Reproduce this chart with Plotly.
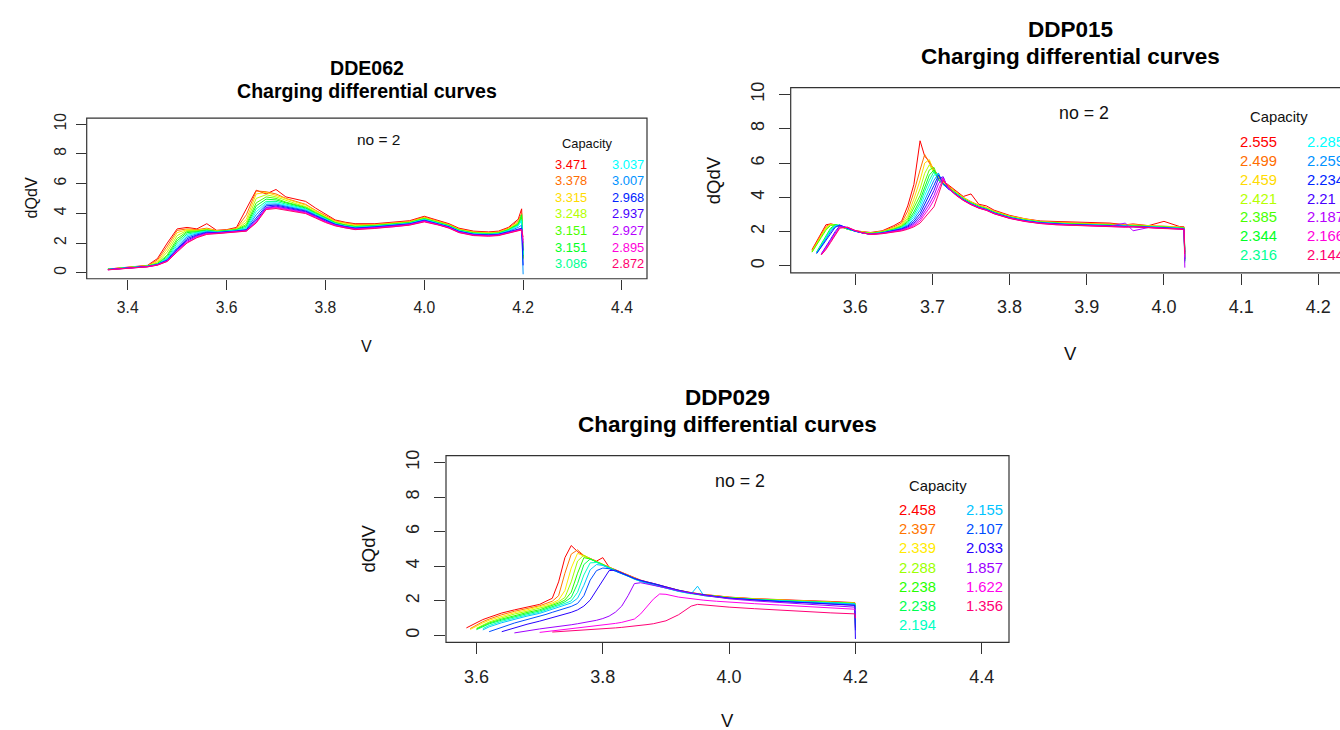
import colorsys
import plotly.graph_objects as go

W, H = 1340, 730

# ------------------------------------------------------------------ data
# ---- DDE062
DDE062_V = [3.36, 3.40, 3.44, 3.46, 3.48, 3.50, 3.52, 3.54, 3.56, 3.58, 3.60, 3.62, 3.64,
            3.66, 3.68, 3.70, 3.72, 3.74, 3.76, 3.78, 3.80, 3.82, 3.84, 3.86, 3.90, 3.94,
            3.97, 4.00, 4.03, 4.05, 4.07, 4.10, 4.13, 4.15, 4.17, 4.19, 4.197, 4.20]
DDE062_CAP = [3.471, 3.378, 3.315, 3.248, 3.151, 3.151, 3.086,
              3.037, 3.007, 2.968, 2.937, 2.927, 2.895, 2.872]
DDE062_DQDV = [
    [0.25, 0.35, 0.50, 0.95, 2.00, 2.95, 3.05, 2.95, 3.30, 2.85, 2.90, 3.05, 4.30, 5.55, 5.30, 5.60, 5.10, 4.95, 4.80, 4.35, 3.95, 3.55, 3.40, 3.30, 3.30, 3.40, 3.50, 3.80, 3.50, 3.30, 3.00, 2.80, 2.75, 2.80, 3.05, 3.60, 4.30, 1.2],
    [0.25, 0.34, 0.48, 0.85, 1.80, 2.85, 2.95, 2.90, 3.00, 2.85, 2.88, 2.98, 3.90, 5.50, 5.45, 5.30, 5.00, 4.80, 4.60, 4.20, 3.85, 3.50, 3.35, 3.25, 3.25, 3.35, 3.45, 3.75, 3.45, 3.25, 2.95, 2.75, 2.70, 2.75, 3.00, 3.50, 4.00, 1.0],
    [0.24, 0.33, 0.47, 0.75, 1.60, 2.70, 2.90, 2.85, 2.95, 2.82, 2.85, 2.95, 3.60, 5.30, 5.40, 5.20, 4.95, 4.75, 4.55, 4.15, 3.80, 3.45, 3.30, 3.20, 3.22, 3.32, 3.42, 3.70, 3.42, 3.22, 2.92, 2.72, 2.68, 2.72, 2.95, 3.40, 3.80, 1.5],
    [0.24, 0.33, 0.46, 0.68, 1.40, 2.50, 2.85, 2.82, 2.92, 2.80, 2.83, 2.92, 3.40, 5.00, 5.25, 5.10, 4.85, 4.65, 4.45, 4.10, 3.75, 3.40, 3.25, 3.15, 3.20, 3.30, 3.40, 3.68, 3.40, 3.20, 2.90, 2.70, 2.66, 2.70, 2.92, 3.35, 3.90, 1.0],
    [0.24, 0.32, 0.45, 0.62, 1.20, 2.30, 2.78, 2.80, 2.88, 2.78, 2.82, 2.90, 3.25, 4.70, 5.10, 5.00, 4.75, 4.55, 4.40, 4.05, 3.70, 3.38, 3.22, 3.12, 3.18, 3.28, 3.38, 3.65, 3.38, 3.18, 2.88, 2.68, 2.64, 2.68, 2.90, 3.30, 3.70, 0.9],
    [0.23, 0.32, 0.45, 0.60, 1.10, 2.15, 2.70, 2.76, 2.86, 2.77, 2.80, 2.88, 3.15, 4.50, 4.95, 4.90, 4.70, 4.50, 4.35, 4.00, 3.68, 3.35, 3.20, 3.10, 3.16, 3.26, 3.36, 3.62, 3.36, 3.16, 2.86, 2.66, 2.62, 2.66, 2.88, 3.25, 3.90, 1.1],
    [0.23, 0.31, 0.44, 0.58, 1.00, 2.00, 2.60, 2.72, 2.82, 2.75, 2.78, 2.86, 3.05, 4.30, 4.80, 4.80, 4.62, 4.45, 4.30, 3.96, 3.64, 3.32, 3.17, 3.07, 3.14, 3.24, 3.34, 3.60, 3.34, 3.14, 2.84, 2.64, 2.60, 2.64, 2.85, 3.20, 3.60, 1.3],
    [0.23, 0.31, 0.44, 0.57, 0.95, 1.85, 2.50, 2.68, 2.80, 2.73, 2.77, 2.84, 2.98, 4.10, 4.70, 4.70, 4.55, 4.40, 4.25, 3.92, 3.60, 3.30, 3.15, 3.05, 3.12, 3.22, 3.32, 3.58, 3.32, 3.12, 2.82, 2.62, 2.58, 2.62, 2.82, 3.15, 3.50, 1.2],
    [0.22, 0.30, 0.43, 0.56, 0.90, 1.70, 2.40, 2.62, 2.76, 2.72, 2.76, 2.82, 2.92, 3.90, 4.60, 4.62, 4.48, 4.35, 4.20, 3.88, 3.56, 3.28, 3.12, 3.02, 3.10, 3.20, 3.30, 3.55, 3.30, 3.10, 2.80, 2.60, 2.56, 2.60, 2.78, 3.05, 3.20, -0.1],
    [0.22, 0.30, 0.42, 0.55, 0.85, 1.60, 2.30, 2.55, 2.72, 2.70, 2.74, 2.80, 2.88, 3.70, 4.50, 4.55, 4.42, 4.30, 4.15, 3.84, 3.52, 3.25, 3.10, 3.00, 3.08, 3.18, 3.28, 3.52, 3.28, 3.08, 2.78, 2.58, 2.54, 2.58, 2.75, 2.95, 3.00, 0.5],
    [0.21, 0.29, 0.42, 0.54, 0.82, 1.55, 2.20, 2.50, 2.68, 2.68, 2.73, 2.78, 2.85, 3.55, 4.40, 4.48, 4.36, 4.25, 4.10, 3.80, 3.48, 3.22, 3.07, 2.97, 3.05, 3.15, 3.26, 3.50, 3.26, 3.06, 2.76, 2.56, 2.52, 2.56, 2.72, 2.90, 2.95, 1.5],
    [0.21, 0.29, 0.41, 0.53, 0.80, 1.50, 2.12, 2.45, 2.65, 2.66, 2.72, 2.77, 2.83, 3.45, 4.35, 4.42, 4.30, 4.20, 4.06, 3.76, 3.45, 3.20, 3.05, 2.95, 3.03, 3.13, 3.24, 3.48, 3.24, 3.04, 2.74, 2.54, 2.50, 2.54, 2.70, 2.88, 2.92, 2.0],
    [0.20, 0.28, 0.40, 0.52, 0.78, 1.45, 2.05, 2.40, 2.62, 2.65, 2.71, 2.75, 2.81, 3.40, 4.30, 4.38, 4.25, 4.15, 4.02, 3.72, 3.42, 3.18, 3.02, 2.92, 3.00, 3.10, 3.22, 3.45, 3.22, 3.02, 2.72, 2.52, 2.48, 2.52, 2.68, 2.85, 2.90, 2.2],
    [0.20, 0.28, 0.40, 0.51, 0.76, 1.40, 2.00, 2.36, 2.58, 2.63, 2.70, 2.74, 2.80, 3.35, 4.25, 4.32, 4.20, 4.10, 3.98, 3.68, 3.38, 3.15, 3.00, 2.90, 2.98, 3.08, 3.20, 3.42, 3.20, 3.00, 2.70, 2.50, 2.46, 2.50, 2.66, 2.82, 2.88, 2.4],
]

# ---- DDP015
DDP015_V = [3.544, 3.550, 3.556, 3.562, 3.568, 3.574, 3.580, 3.590, 3.600, 3.610, 3.620,
            3.635, 3.650, 3.660, 3.668, 3.676, 3.684, 3.690, 3.696, 3.702, 3.708, 3.714,
            3.720, 3.730, 3.740, 3.750, 3.760, 3.770, 3.780, 3.800, 3.820, 3.840, 3.860,
            3.880, 3.900, 3.930, 3.950, 3.960, 3.980, 4.000, 4.020, 4.026, 4.027]
DDP015_CAP = [2.555, 2.499, 2.459, 2.421, 2.385, 2.344, 2.316,
              2.285, 2.259, 2.234, 2.21, 2.187, 2.166, 2.144]
DDP015_DQDV = [
    [0.95, 1.45, 1.95, 2.40, 2.45, 2.40, 2.30, 2.15, 2.05, 1.98, 1.95, 2.05, 2.35, 2.60, 3.50, 4.75, 7.30, 6.40, 6.10, 5.60, 5.30, 4.95, 4.75, 4.40, 4.05, 4.20, 3.60, 3.50, 3.25, 2.95, 2.75, 2.62, 2.60, 2.55, 2.55, 2.50, 2.40, 2.45, 2.35, 2.60, 2.30, 2.28, 0.4],
    [0.90, 1.35, 1.85, 2.30, 2.45, 2.40, 2.32, 2.15, 2.05, 1.97, 1.93, 2.02, 2.28, 2.50, 3.20, 4.30, 5.60, 6.50, 6.00, 5.55, 5.20, 4.90, 4.70, 4.35, 4.00, 3.75, 3.55, 3.40, 3.20, 2.92, 2.73, 2.60, 2.55, 2.50, 2.48, 2.45, 2.40, 2.40, 2.35, 2.32, 2.28, 2.25, 0.6],
    [0.85, 1.30, 1.78, 2.22, 2.42, 2.40, 2.33, 2.15, 2.04, 1.96, 1.92, 2.00, 2.22, 2.42, 2.95, 3.90, 5.00, 6.00, 6.20, 5.50, 5.15, 4.85, 4.65, 4.30, 3.98, 3.72, 3.52, 3.38, 3.18, 2.90, 2.72, 2.58, 2.52, 2.48, 2.46, 2.42, 2.38, 2.40, 2.33, 2.30, 2.26, 2.24, 0.5],
    [0.82, 1.25, 1.72, 2.15, 2.40, 2.40, 2.33, 2.14, 2.03, 1.95, 1.91, 1.99, 2.18, 2.36, 2.80, 3.60, 4.50, 5.40, 5.90, 5.45, 5.10, 4.82, 4.62, 4.28, 3.95, 3.70, 3.50, 3.36, 3.16, 2.88, 2.70, 2.57, 2.50, 2.46, 2.44, 2.40, 2.36, 2.38, 2.32, 2.28, 2.25, 2.22, 0.3],
    [0.80, 1.20, 1.66, 2.08, 2.36, 2.40, 2.34, 2.14, 2.02, 1.94, 1.90, 1.98, 2.15, 2.32, 2.68, 3.35, 4.10, 4.90, 5.60, 5.75, 5.05, 4.80, 4.60, 4.26, 3.93, 3.68, 3.48, 3.34, 3.14, 2.86, 2.68, 2.56, 2.49, 2.45, 2.43, 2.39, 2.35, 2.37, 2.31, 2.27, 2.24, 2.21, 0.8],
    [None, 0.82, 1.28, 1.75, 2.20, 2.40, 2.36, 2.15, 2.02, 1.93, 1.88, 1.96, 2.12, 2.28, 2.58, 3.15, 3.85, 4.60, 5.30, 5.60, 5.00, 4.78, 4.58, 4.24, 3.92, 3.66, 3.46, 3.32, 3.12, 2.85, 2.67, 2.55, 2.48, 2.44, 2.42, 2.38, 2.34, 2.36, 2.30, 2.26, 2.23, 2.20, 1.0],
    [None, 0.78, 1.22, 1.68, 2.12, 2.38, 2.37, 2.16, 2.02, 1.93, 1.87, 1.95, 2.10, 2.25, 2.50, 3.00, 3.65, 4.35, 5.00, 5.50, 4.98, 4.76, 4.56, 4.22, 3.90, 3.65, 3.45, 3.31, 3.11, 2.84, 2.66, 2.54, 2.47, 2.43, 2.41, 2.37, 2.33, 2.35, 2.29, 2.25, 2.22, 2.19, 0.2],
    [None, 0.76, 1.18, 1.62, 2.05, 2.35, 2.38, 2.17, 2.02, 1.92, 1.86, 1.94, 2.08, 2.22, 2.44, 2.86, 3.45, 4.10, 4.70, 5.30, 5.40, 4.74, 4.54, 4.20, 3.88, 3.63, 3.43, 3.30, 3.10, 2.83, 2.65, 2.53, 2.46, 2.42, 2.40, 2.36, 2.32, 2.34, 2.28, 2.24, 2.21, 2.18, 0.6],
    [None, 0.74, 1.14, 1.56, 1.98, 2.30, 2.38, 2.18, 2.02, 1.92, 1.85, 1.93, 2.06, 2.19, 2.38, 2.72, 3.25, 3.85, 4.40, 5.00, 5.40, 4.75, 4.53, 4.19, 3.87, 3.62, 3.42, 3.29, 3.09, 2.82, 2.64, 2.52, 2.45, 2.41, 2.39, 2.35, 2.31, 2.33, 2.27, 2.23, 2.20, 2.17, 0.4],
    [None, 0.72, 1.10, 1.50, 1.92, 2.25, 2.38, 2.20, 2.03, 1.92, 1.85, 1.92, 2.04, 2.16, 2.32, 2.60, 3.05, 3.60, 4.10, 4.70, 5.30, 4.80, 4.52, 4.18, 3.86, 3.61, 3.41, 3.28, 3.08, 2.81, 2.63, 2.51, 2.44, 2.40, 2.38, 2.34, 2.30, 2.32, 2.26, 2.22, 2.19, 2.16, 0.3],
    [None, None, 0.70, 1.10, 1.55, 2.00, 2.35, 2.22, 2.04, 1.92, 1.84, 1.91, 2.02, 2.13, 2.27, 2.50, 2.88, 3.35, 3.85, 4.40, 5.10, 5.20, 4.52, 4.17, 3.85, 3.60, 3.40, 3.27, 3.07, 2.80, 2.62, 2.50, 2.43, 2.39, 2.37, 2.33, 2.29, 2.31, 2.25, 2.21, 2.18, 2.15, 0.8],
    [None, None, 0.68, 1.05, 1.48, 1.92, 2.30, 2.24, 2.05, 1.92, 1.84, 1.90, 2.00, 2.10, 2.22, 2.42, 2.74, 3.15, 3.60, 4.10, 4.80, 5.15, 4.55, 4.16, 3.84, 3.59, 3.39, 3.26, 3.06, 2.79, 2.61, 2.49, 2.42, 2.38, 2.36, 2.32, 2.50, 2.05, 2.24, 2.20, 2.17, 2.14, -0.1],
    [None, None, 0.66, 1.00, 1.42, 1.85, 2.25, 2.25, 2.06, 1.93, 1.84, 1.89, 1.98, 2.07, 2.18, 2.35, 2.62, 2.98, 3.38, 3.85, 4.50, 5.10, 4.60, 4.15, 3.83, 3.58, 3.38, 3.25, 3.05, 2.78, 2.60, 2.48, 2.41, 2.37, 2.35, 2.31, 2.27, 2.29, 2.23, 2.19, 2.16, 2.13, 0.5],
    [None, None, 0.64, 0.95, 1.36, 1.78, 2.20, 2.26, 2.07, 1.93, 1.84, 1.88, 1.96, 2.04, 2.14, 2.28, 2.50, 2.80, 3.15, 3.45, 4.20, 5.00, 4.65, 4.14, 3.82, 3.57, 3.37, 3.24, 3.04, 2.77, 2.59, 2.47, 2.40, 2.36, 2.34, 2.30, 2.26, 2.28, 2.22, 2.18, 2.15, 2.12, 0.7],
]

# ---- DDP029
DDP029_V = [3.584, 3.59, 3.60, 3.61, 3.62, 3.64, 3.66, 3.68, 3.70, 3.71, 3.72, 3.73, 3.74,
            3.75, 3.76, 3.77, 3.78, 3.79, 3.80, 3.81, 3.82, 3.83, 3.84, 3.85, 3.86, 3.87,
            3.88, 3.89, 3.90, 3.92, 3.94, 3.95, 3.96, 3.98, 4.00, 4.04, 4.08, 4.12, 4.16,
            4.199, 4.20]
DDP029_CAP = [2.458, 2.397, 2.339, 2.288, 2.238, 2.238, 2.194,
              2.155, 2.107, 2.033, 1.857, 1.622, 1.356]
N = None
DDP029_DQDV = [
    [0.44, 0.55, 0.75, 0.92, 1.05, 1.30, 1.48, 1.62, 1.80, 1.98, 2.15, 3.10, 4.50, 5.20, 4.85, 4.60, 4.45, 4.30, 4.50, 3.95, 3.80, 3.65, 3.50, 3.32, 3.20, 3.10, 3.00, 2.90, 2.80, 2.62, 2.48, 2.42, 2.37, 2.30, 2.22, 2.13, 2.06, 2.02, 1.97, 1.90, 0.45],
    [N, 0.40, 0.62, 0.80, 0.95, 1.20, 1.40, 1.55, 1.72, 1.85, 1.98, 2.30, 3.60, 4.70, 4.95, 4.62, 4.47, 4.28, 4.12, 3.93, 3.78, 3.63, 3.48, 3.30, 3.18, 3.08, 2.98, 2.88, 2.78, 2.61, 2.47, 2.41, 2.36, 2.29, 2.21, 2.12, 2.05, 2.00, 1.95, 1.88, 1.2],
    [N, 0.35, 0.55, 0.72, 0.88, 1.12, 1.32, 1.48, 1.64, 1.76, 1.88, 2.05, 2.60, 3.90, 4.75, 4.60, 4.45, 4.27, 4.11, 3.92, 3.77, 3.62, 3.47, 3.29, 3.17, 3.07, 2.97, 2.87, 2.77, 2.60, 2.46, 2.40, 2.35, 2.28, 2.20, 2.11, 2.04, 1.99, 1.94, 1.87, 1.0],
    [N, N, 0.42, 0.62, 0.78, 1.02, 1.24, 1.40, 1.56, 1.68, 1.80, 1.95, 2.20, 3.10, 4.30, 4.65, 4.43, 4.26, 4.10, 3.91, 3.76, 3.61, 3.46, 3.28, 3.16, 3.06, 2.96, 2.86, 2.76, 2.59, 2.45, 2.39, 2.34, 2.27, 2.19, 2.10, 2.03, 1.98, 1.93, 1.86, 0.7],
    [N, N, 0.38, 0.57, 0.72, 0.95, 1.16, 1.33, 1.49, 1.61, 1.73, 1.87, 2.05, 2.50, 3.60, 4.50, 4.42, 4.25, 4.09, 3.90, 3.75, 3.60, 3.45, 3.27, 3.15, 3.05, 2.95, 2.85, 2.75, 2.58, 2.44, 2.38, 2.33, 2.26, 2.18, 2.09, 2.02, 1.97, 1.92, 1.85, 1.5],
    [N, N, 0.34, 0.52, 0.67, 0.89, 1.09, 1.26, 1.42, 1.54, 1.66, 1.79, 1.95, 2.20, 3.00, 4.10, 4.42, 4.24, 4.08, 3.89, 3.74, 3.59, 3.44, 3.26, 3.14, 3.04, 2.94, 2.84, 2.74, 2.57, 2.43, 2.37, 2.32, 2.25, 2.17, 2.08, 2.01, 1.96, 1.91, 1.84, 1.1],
    [N, N, N, 0.40, 0.58, 0.82, 1.02, 1.19, 1.35, 1.47, 1.59, 1.71, 1.85, 2.00, 2.50, 3.50, 4.20, 4.22, 4.07, 3.88, 3.73, 3.58, 3.43, 3.25, 3.13, 3.03, 2.93, 2.83, 2.73, 2.56, 2.42, 2.36, 2.31, 2.24, 2.16, 2.07, 2.00, 1.95, 1.90, 1.83, 0.9],
    [N, N, N, 0.32, 0.50, 0.74, 0.95, 1.12, 1.28, 1.40, 1.51, 1.62, 1.74, 1.88, 2.15, 2.90, 3.80, 4.10, 4.05, 3.87, 3.72, 3.57, 3.42, 3.24, 3.12, 3.02, 2.92, 2.82, 2.72, 2.55, 2.41, 2.85, 2.30, 2.23, 2.15, 2.06, 1.99, 1.94, 1.89, 1.82, 0.6],
    [N, N, N, N, 0.22, 0.48, 0.72, 0.92, 1.10, 1.22, 1.34, 1.45, 1.56, 1.68, 1.85, 2.30, 3.20, 3.75, 3.90, 3.86, 3.72, 3.58, 3.45, 3.28, 3.17, 3.08, 3.00, 2.90, 2.78, 2.60, 2.45, 2.39, 2.33, 2.24, 2.15, 2.04, 1.96, 1.90, 1.84, 1.76, 0.3],
    [N, N, N, N, N, 0.22, 0.45, 0.65, 0.83, 0.93, 1.02, 1.12, 1.22, 1.34, 1.48, 1.70, 2.05, 2.60, 3.20, 3.75, 3.78, 3.60, 3.46, 3.29, 3.18, 3.09, 3.01, 2.91, 2.79, 2.61, 2.46, 2.40, 2.34, 2.25, 2.16, 2.05, 1.97, 1.90, 1.84, 1.74, -0.2],
    [N, N, N, N, N, N, 0.15, 0.28, 0.38, 0.43, 0.47, 0.51, 0.56, 0.62, 0.68, 0.74, 0.80, 0.88, 0.98, 1.12, 1.35, 1.70, 2.30, 3.00, 3.05, 2.98, 2.92, 2.84, 2.75, 2.58, 2.44, 2.38, 2.32, 2.22, 2.12, 2.00, 1.90, 1.82, 1.74, 1.64, 1.0],
    [N, N, N, N, N, N, N, N, 0.18, 0.22, 0.26, 0.30, 0.34, 0.38, 0.42, 0.46, 0.50, 0.55, 0.60, 0.65, 0.70, 0.76, 0.84, 0.95, 1.25, 1.70, 2.10, 2.40, 2.38, 2.22, 2.12, 2.08, 2.04, 1.98, 1.92, 1.84, 1.76, 1.68, 1.60, 1.52, 1.45],
    [N, N, N, N, N, N, N, N, N, N, 0.20, 0.22, 0.24, 0.26, 0.28, 0.30, 0.32, 0.35, 0.38, 0.41, 0.44, 0.47, 0.50, 0.54, 0.58, 0.63, 0.68, 0.75, 0.85, 1.20, 1.70, 1.80, 1.76, 1.70, 1.64, 1.55, 1.46, 1.38, 1.31, 1.25, 1.0],
]

Y_TICKS = [0, 2, 4, 6, 8, 10]
Y_TICKTEXT = ["0", "2", "4", "6", "8", "10"]
DDE062_XTICKS = [3.4, 3.6, 3.8, 4.0, 4.2, 4.4]
DDE062_XTEXT = ["3.4", "3.6", "3.8", "4.0", "4.2", "4.4"]
DDP015_XTICKS = [3.6, 3.7, 3.8, 3.9, 4.0, 4.1, 4.2]
DDP015_XTEXT = ["3.6", "3.7", "3.8", "3.9", "4.0", "4.1", "4.2"]
DDP029_XTICKS = [3.6, 3.8, 4.0, 4.2, 4.4]
DDP029_XTEXT = ["3.6", "3.8", "4.0", "4.2", "4.4"]


def rainbow(n):
    out = []
    for i in range(n):
        r, g, b = colorsys.hsv_to_rgb(i / n, 1, 1)
        out.append('#%02X%02X%02X' % (round(r * 255), round(g * 255), round(b * 255)))
    return out


FONT = "Liberation Sans, Arial, sans-serif"
AX = "#333333"

panels = [
    dict(name="DDE062", V=DDE062_V, Y=DDE062_DQDV, caps=DDE062_CAP,
         xt=DDE062_XTICKS, xtt=DDE062_XTEXT,
         box=(86.7, 113, 647, 275), xr=(3.317, 4.4506), s=0.87, xso=4, yso=3,
         title_y=(63, 86), xlab_y=343, ylab_x=31,
         noeq=(378, 135), cap=(587, 139), col1=553, col2=610, row0=159.5, dy=16.7),
    dict(name="DDP015", V=DDP015_V, Y=DDP015_DQDV, caps=DDP015_CAP,
         xt=DDP015_XTICKS, xtt=DDP015_XTEXT,
         box=(790.7, 82.3, 1351, 269), xr=(3.5164, 4.2423), s=1.0, xso=7, yso=8,
         title_y=(24, 51), xlab_y=350, ylab_x=713,
         noeq=(1084, 108), cap=(1279, 112), col1=1238, col2=1305, row0=136.8, dy=19.1),
    dict(name="DDP029", V=DDP029_V, Y=DDP029_DQDV, caps=DDP029_CAP,
         xt=DDP029_XTICKS, xtt=DDP029_XTEXT,
         box=(446, 453.3, 1009, 641.7), xr=(3.5517, 4.4432), s=1.0, xso=7, yso=8,
         title_y=(395, 422), xlab_y=720, ylab_x=367.5,
         noeq=(740, 479), cap=(938, 484), col1=897, col2=964, row0=508.3, dy=19.3),
]

fig = go.Figure()
annotations = []
shapes = []
layout = dict(width=W, height=H, margin=dict(l=0, r=0, t=0, b=0),
              paper_bgcolor="white", plot_bgcolor="white", showlegend=False,
              font=dict(family=FONT, color="#111111"))


def px(x):
    return x / W


def py(y):
    return 1 - y / H


for k, p in enumerate(panels):
    sfx = "" if k == 0 else str(k + 1)
    L, T, R, B = p["box"]
    s = p["s"]
    cols = rainbow(len(p["Y"]))
    # clip domain to the page; keep pixel scale by range adjust
    xr0, xr1 = p["xr"]
    pxv = (R - L) / (xr1 - xr0)
    Rc = min(R, W)
    xr1c = xr0 + (Rc - L) / pxv
    layout["xaxis" + sfx] = dict(
        domain=[px(L), px(Rc)], range=[xr0, xr1c], anchor="y" + sfx,
        showgrid=False, zeroline=False, showline=False,
        tickmode="array", tickvals=p["xt"], ticktext=p["xtt"],
        ticks="outside", ticklen=round(11 * s), tickwidth=1, tickcolor=AX,
        tickfont=dict(size=18 * s, family=FONT, color="#222222"),
        ticklabelstandoff=p["xso"])
    layout["yaxis" + sfx] = dict(
        domain=[py(B), py(T)], range=[-0.4, 10.4], anchor="x" + sfx,
        showgrid=False, zeroline=False, showline=False,
        tickmode="array", tickvals=Y_TICKS, ticktext=Y_TICKTEXT,
        ticks="outside", ticklen=round(11 * s), tickwidth=1, tickcolor=AX,
        tickangle=-90,
        tickfont=dict(size=18 * s, family=FONT, color="#222222"),
        ticklabelstandoff=p["yso"])
    shapes.append(dict(type="rect", xref="x" + sfx + " domain", yref="y" + sfx + " domain",
                       x0=0, x1=(R - L) / (Rc - L), y0=0, y1=1,
                       line=dict(color=AX, width=1.2), layer="above"))

    for i, yv in enumerate(p["Y"]):
        fig.add_trace(go.Scatter(x=p["V"], y=yv, mode="lines",
                                 line=dict(color=cols[i], width=1),
                                 xaxis="x" + sfx, yaxis="y" + sfx,
                                 connectgaps=False, hoverinfo="skip"))

    cx = (L + R) / 2
    annotations.append(dict(text="<b>%s</b>" % p["name"], x=px(cx), y=py(p["title_y"][0]),
                            xref="paper", yref="paper", showarrow=False,
                            xanchor="center", yanchor="middle",
                            font=dict(size=22.5 * s, family=FONT, color="#000000")))
    annotations.append(dict(text="<b>Charging differential curves</b>", x=px(cx),
                            y=py(p["title_y"][1]), xref="paper", yref="paper",
                            showarrow=False, xanchor="center", yanchor="middle",
                            font=dict(size=22.5 * s, family=FONT, color="#000000")))
    annotations.append(dict(text="V", x=px(cx), y=py(p["xlab_y"]), xref="paper",
                            yref="paper", showarrow=False, xanchor="center",
                            yanchor="middle", font=dict(size=18.5 * s, family=FONT)))
    annotations.append(dict(text="dQdV", x=px(p["ylab_x"]), y=py((T + B) / 2),
                            xref="paper", yref="paper", showarrow=False,
                            textangle=-90, xanchor="center", yanchor="middle",
                            font=dict(size=18.5 * s, family=FONT)))
    annotations.append(dict(text="no = 2", x=px(p["noeq"][0]), y=py(p["noeq"][1]),
                            xref="paper", yref="paper", showarrow=False,
                            xanchor="center", yanchor="middle",
                            font=dict(size=17.8 * s, family=FONT)))
    annotations.append(dict(text="Capacity", x=px(p["cap"][0]), y=py(p["cap"][1]),
                            xref="paper", yref="paper", showarrow=False,
                            xanchor="center", yanchor="middle",
                            font=dict(size=14.8 * s, family=FONT)))
    for i, c in enumerate(p["caps"]):
        col = p["col1"] if i < 7 else p["col2"]
        row = i if i < 7 else i - 7
        annotations.append(dict(text=str(c), x=px(col), y=py(p["row0"] + row * p["dy"]),
                                xref="paper", yref="paper", showarrow=False,
                                xanchor="left", yanchor="middle",
                                font=dict(size=14.8 * s, family=FONT, color=cols[i])))

layout["annotations"] = annotations
layout["shapes"] = shapes
fig.update_layout(**layout)
fig.write_html("out.html")
